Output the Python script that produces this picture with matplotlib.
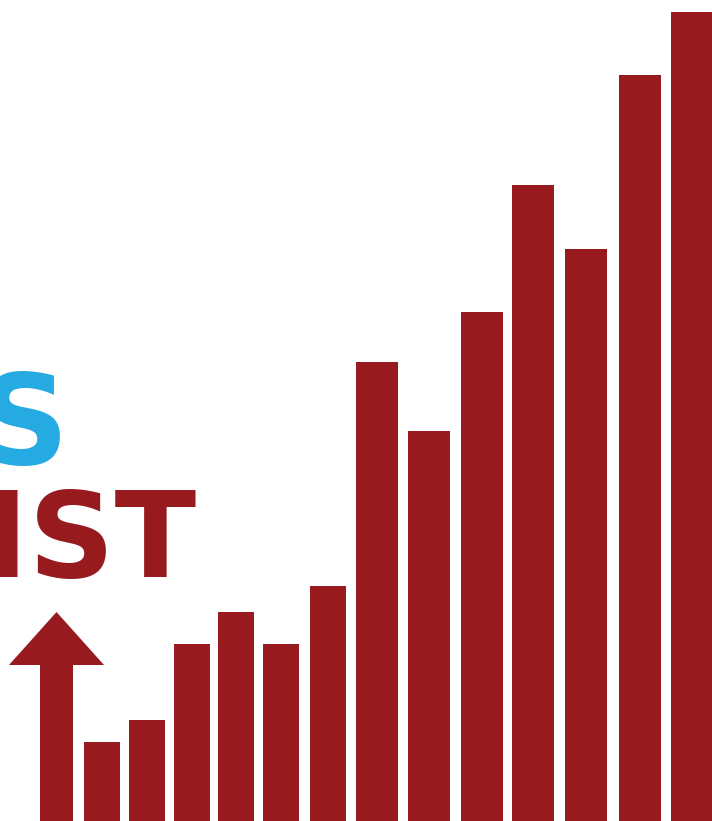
import matplotlib
matplotlib.use("Agg")
from matplotlib import pyplot as plt
from matplotlib.patches import FancyArrow

# bar tops (pixel rows), bottom of picture = 821
bar_left = [84, 129, 174, 218, 263, 310, 356, 408, 461, 512, 565, 619, 671]
bar_width = [36, 36, 36, 36, 36, 36, 42, 42, 42, 42, 42, 42, 42]
bar_height = [79, 101, 177, 209, 177, 235, 459, 390, 509, 636, 572, 746, 809]

RED = '#971b1e'
BLUE = '#25aae1'
W, H = 712, 821

fig = plt.figure(figsize=(W / 100, H / 100), dpi=100)
ax = fig.add_axes([0, 0, 1, 1])
ax.set_xlim(0, W)
ax.set_ylim(0, H)
ax.axis('off')

ax.bar(bar_left, bar_height, width=bar_width, align='edge', color=RED, linewidth=0)

# arrow on the left
ax.add_patch(FancyArrow(56.5, 0, 0, H - 612, width=33, head_width=95, head_length=53,
                        length_includes_head=True, color=RED, linewidth=0))

ax.text(69, H - 464, 'S', color=BLUE, fontsize=90, fontweight='bold',
        family='DejaVu Sans', ha='right', va='baseline')
ax.text(196, H - 577, 'IST', color=RED, fontsize=86, fontweight='bold',
        family='DejaVu Sans', ha='right', va='baseline')

fig.savefig('out.png', dpi=100)
